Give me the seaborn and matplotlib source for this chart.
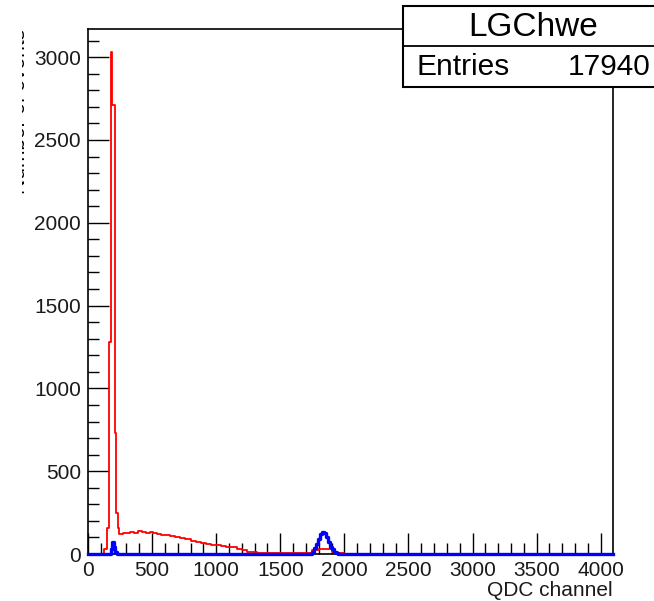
import numpy as np
import pandas as pd
import matplotlib
matplotlib.use("Agg")
import matplotlib.pyplot as plt
import seaborn as sns
from matplotlib.ticker import MultipleLocator
from matplotlib.patches import Rectangle
from matplotlib.lines import Line2D
from matplotlib.transforms import Bbox

# ---------------- data ----------------
red_edges = [0, 125, 150, 165, 180, 188, 212, 220, 236, 244, 270, 300, 330, 360, 390,
             420, 450, 480, 510, 540, 570, 600, 640, 680, 720, 760, 800, 840, 880, 920,
             960, 1000, 1040, 1080, 1120, 1160, 1200, 1240, 1280, 1320, 1400, 1500, 1600,
             1700, 1750, 1800, 1850, 1900, 1950, 2000, 2100, 2230, 4096]
red_counts = [0, 30, 160, 1280, 3030, 2710, 730, 250, 160,
              122, 128, 126, 133, 129, 136, 131, 127, 130, 124, 121, 117,
              114, 108, 102, 95, 88, 80, 74, 68, 63, 56,
              52, 47, 44, 40, 33, 24, 15, 10,
              8, 6, 5, 5,
              9, 22, 30, 28, 15, 6,
              3, 2, 0]

blue_edges = [0, 180, 190, 200, 210, 230, 1744, 1760, 1776, 1792, 1808, 1824, 1840,
              1856, 1872, 1888, 1904, 1920, 1936, 1952, 2200, 4096]
blue_counts = [0, 30, 75, 40, 10, 3, 15, 35, 60, 90, 120, 135, 125, 100, 70, 45,
               28, 15, 8, 3, 0]

x_label = "QDC channel"
y_label = "Number of events"
stats_name = "LGChwe"
stats_entries = "17940"

# ---------------- figure ----------------
W, H = 654, 601
plt.rcParams["font.family"] = ["Liberation Sans", "DejaVu Sans"]
fig = plt.figure(figsize=(W / 100, H / 100), dpi=100)
ax = fig.add_axes([88 / W, (H - 554) / H, (613 - 88) / W, (554 - 29) / H])

def make_df(edges, counts):
    e = np.asarray(edges, dtype=float)
    return pd.DataFrame({"x": (e[:-1] + e[1:]) / 2, "w": counts})

sns.histplot(data=make_df(red_edges, red_counts), x="x", weights="w", bins=red_edges,
             element="step", fill=False, color="#ff0000", linewidth=1.3, ax=ax)
sns.histplot(data=make_df(blue_edges, blue_counts), x="x", weights="w", bins=blue_edges,
             element="step", fill=False, color="#0000ff", linewidth=2.4, ax=ax)
for ln in ax.lines:
    ln.set_clip_on(False)
    ln.set_zorder(5)

ax.set_xlim(0, 4096)
ax.set_ylim(0, 3170)
ax.set_xlabel("")
ax.set_ylabel("")

ax.xaxis.set_major_locator(MultipleLocator(500))
ax.xaxis.set_minor_locator(MultipleLocator(100))
ax.yaxis.set_major_locator(MultipleLocator(500))
ax.yaxis.set_minor_locator(MultipleLocator(100))
ax.tick_params(which="both", direction="in", top=False, right=False,
               width=1.0, color="black", labelsize=15, labelcolor="#1a1a1a")
ax.tick_params(which="major", length=15, pad=5)
ax.tick_params(which="minor", length=8)
for s in ax.spines.values():
    s.set_linewidth(1.2)
    s.set_color("black")

# x axis title (right aligned, ROOT style)
fig.text(613 / W, (H - 590) / H, x_label, ha="right", va="center",
         fontsize=15, color="#1a1a1a")

# y axis title, partly cut off at the left edge as in the reference
yt = fig.text(29 / W, (H - 29) / H, y_label, rotation=90, ha="right", va="top",
              fontsize=15, color="black")
yt.set_clip_box(Bbox([[22, 0], [W, H]]))
yt.set_clip_on(True)

# stats box
box_l, box_r, box_t, box_b, box_mid = 403, 664, 6, 87, 46
fig.add_artist(Rectangle((box_l / W, (H - box_b) / H), (box_r - box_l) / W,
                         (box_b - box_t) / H, transform=fig.transFigure,
                         facecolor="white", edgecolor="black", linewidth=1.5,
                         zorder=10))
fig.add_artist(Line2D([box_l / W, box_r / W], [(H - box_mid) / H] * 2,
                      transform=fig.transFigure, color="black", linewidth=1.3,
                      zorder=11))
fig.text(533 / W, (H - 27) / H, stats_name, ha="center", va="center",
         fontsize=24, color="black", zorder=12)
fig.text(417 / W, (H - 67) / H, "Entries", ha="left", va="center",
         fontsize=21.5, color="black", zorder=12)
fig.text(651 / W, (H - 67) / H, stats_entries, ha="right", va="center",
         fontsize=21.5, color="black", zorder=12)

fig.savefig("out.png", dpi=100)
